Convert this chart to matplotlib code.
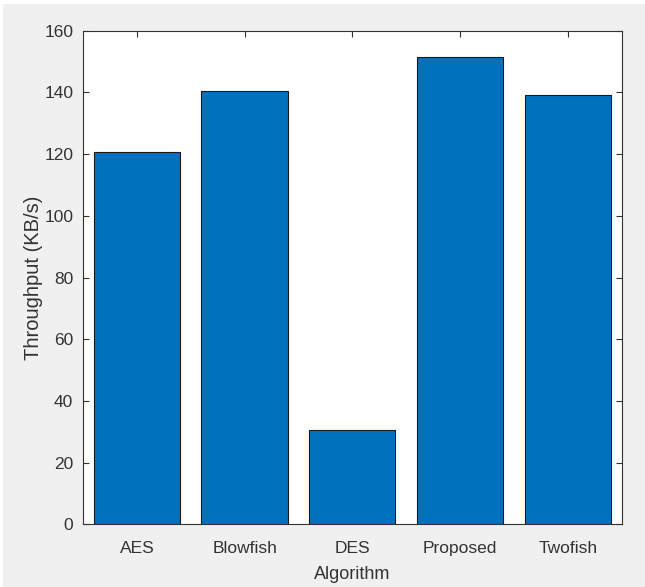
import matplotlib
matplotlib.use("Agg")
import matplotlib.pyplot as plt
from matplotlib.patches import Rectangle

# data
algorithms = ["AES", "Blowfish", "DES", "Proposed", "Twofish"]
throughput = [120.5, 140.5, 30.5, 151.5, 139]

plt.rcParams["font.family"] = ["Liberation Sans", "DejaVu Sans"]

fig = plt.figure(figsize=(6.45, 5.87), dpi=100, facecolor="white")
# gray window background with a thin white border top/left
fig.patches.append(Rectangle((3 / 645, 0), 1, 1 - 4 / 587, transform=fig.transFigure,
                             facecolor="#f0f0f0", edgecolor="none", zorder=-1))

ax = fig.add_axes([0.1287, 0.1065, 0.835, 0.8415])

pos = list(range(1, len(algorithms) + 1))
ax.bar(pos, throughput, width=0.8, color="#0072BD", edgecolor="#1a1a1a", linewidth=0.8, zorder=2)

ax.set_xlim(0.5, 5.5)
ax.set_ylim(0, 160)
ax.set_xticks(pos)
ax.set_xticklabels(algorithms)
ax.set_yticks(range(0, 161, 20))

ax.set_xlabel("Algorithm", fontsize=13, color="#333333", labelpad=7)
ax.set_ylabel("Throughput (KB/s)", fontsize=14.5, color="#333333", labelpad=1)

ax.tick_params(direction="in", top=True, right=True, length=4, width=0.8,
               colors="#333333", labelsize=12.5)
ax.tick_params(axis="x", pad=12)
ax.tick_params(axis="y", pad=7)
for s in ax.spines.values():
    s.set_color("#333333")
    s.set_linewidth(0.8)

plt.savefig("out.png", dpi=100, facecolor=fig.get_facecolor())
plt.close()
